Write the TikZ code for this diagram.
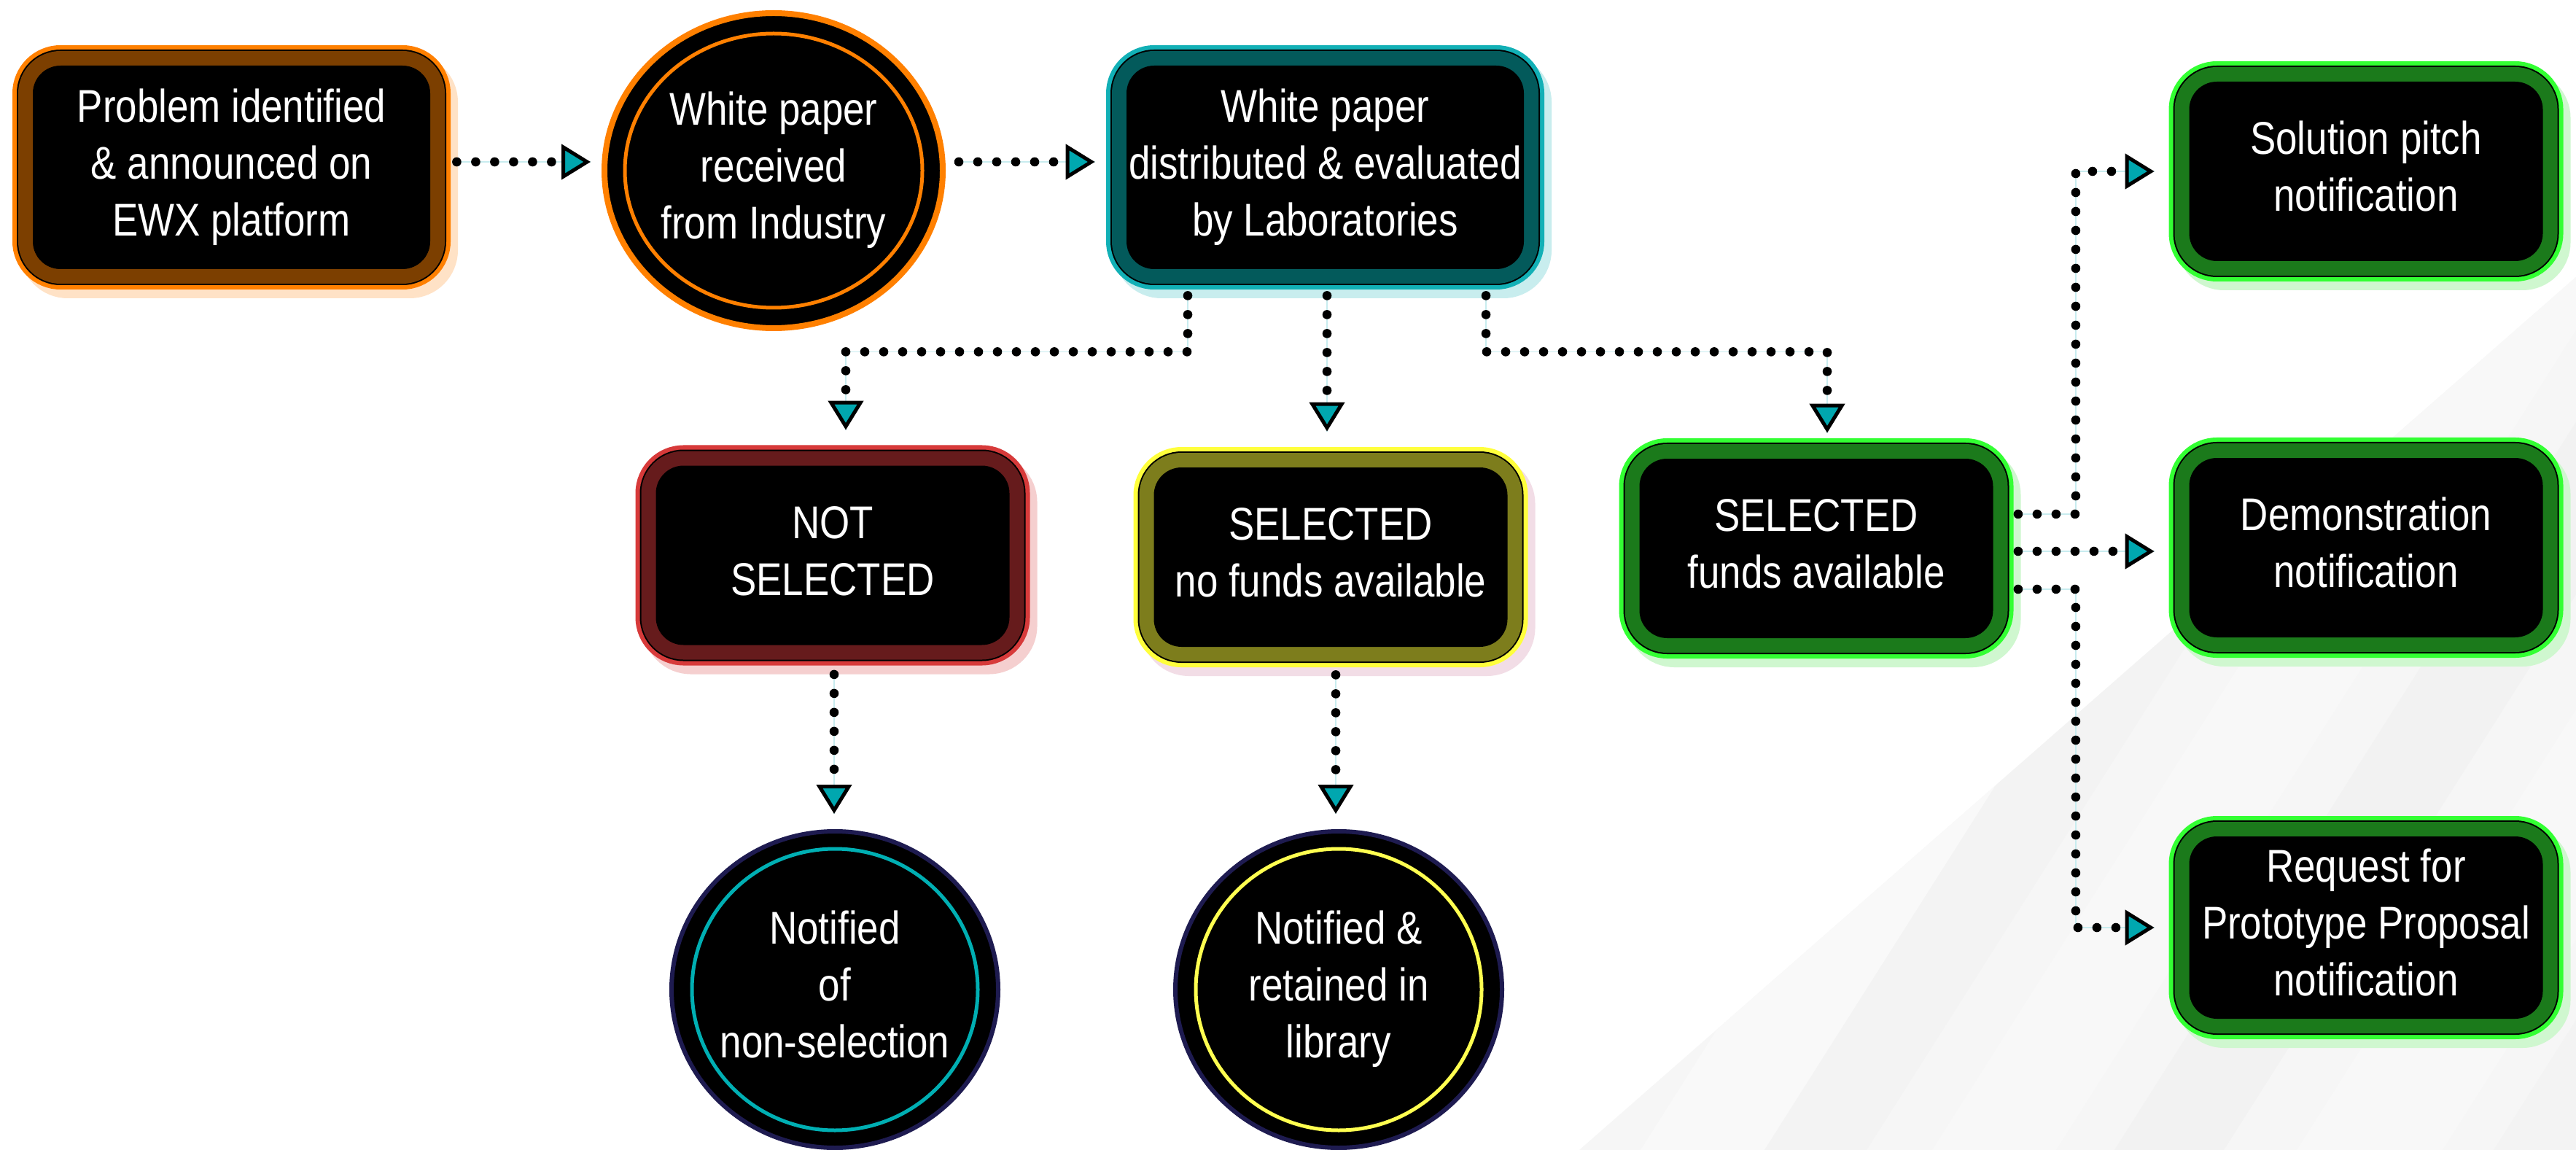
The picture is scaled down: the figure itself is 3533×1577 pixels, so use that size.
\documentclass[tikz,border=0pt]{standalone}
\usepackage{fontspec}
\setmainfont[FakeStretch=0.84]{Liberation Sans}
\usetikzlibrary{arrows.meta,shapes.geometric,calc}
\definecolor{orB}{HTML}{FF8000}\definecolor{orF}{HTML}{7C3F00}\definecolor{orS}{HTML}{FFE2C6}
\definecolor{tlB}{HTML}{12B0B6}\definecolor{tlF}{HTML}{035A5B}\definecolor{tlS}{HTML}{C8EDEE}
\definecolor{rdB}{HTML}{D73A3A}\definecolor{rdF}{HTML}{661B1C}\definecolor{rdS}{HTML}{F5CFCF}
\definecolor{ylB}{HTML}{FFFF3C}\definecolor{ylF}{HTML}{7D7D1C}\definecolor{ylS}{HTML}{F2DDE6}
\definecolor{gnB}{HTML}{33FF33}\definecolor{gnF}{HTML}{1B7A1B}\definecolor{gnS}{HTML}{CFF7CF}
\definecolor{navy}{HTML}{1E1B50}\definecolor{ringT}{HTML}{00AFB3}\definecolor{ringY}{HTML}{FFFF50}
\definecolor{arrT}{HTML}{00A7AF}\definecolor{linec}{HTML}{C8ECEF}
\definecolor{bgA}{HTML}{F6F6F6}
\newcommand\mytxt[2]{\raisebox{#1}{\begin{tabular}{@{}c@{}}#2\end{tabular}}}
\tikzset{
  txtfont/.style={font=\fontsize{31.5}{39}\selectfont, text=white},
  rbox/.style n args={3}{rectangle, rounded corners=19pt, fill=black, inner sep=0pt, txtfont,
    preaction={draw=#3, line width=28pt, transform canvas={shift={(5pt,-6pt)}}},
    preaction={draw=#1, line width=28pt},
    preaction={draw=black, line width=22pt},
    preaction={draw=#2, line width=20pt}},
  bigbox/.style={minimum width=272.5pt, minimum height=139.5pt},
  smallbox/.style={minimum width=242.5pt, minimum height=123pt},
  oval/.style n args={3}{ellipse, fill=black, draw=#1, line width=#2, inner sep=0pt, txtfont,
    minimum width=#3},
  ring/.style={line width=2.5pt},
  conn/.style={draw=black, line width=6.3pt, line cap=round, dash pattern=on 0pt off 13pt,
    preaction={draw=linec, line width=0.6pt, solid, -},
    -{Triangle[length=20pt,width=24pt,fill=arrT,line width=2.5pt]}}
}
\begin{document}
\begin{tikzpicture}[x=0.5pt,y=-0.5pt]
\useasboundingbox (0,0) rectangle (3533,1577);
\fill[white] (0,0) rectangle (3533,1577);
% background: light grey region with faint diagonal stripes
\fill[bgA] (2166,1577) -- (3533,380) -- (3533,1577) -- cycle;
\begin{scope}
\clip (2166,1577) -- (3533,380) -- (3533,1577) -- cycle;
\foreach \a/\b/\c in {2250/2420/F9F9F9,2420/2560/F3F3F3,2650/2820/F8F8F8,2900/3050/F2F2F2,3150/3350/F8F8F8,3420/3600/F3F3F3,3700/3900/F8F8F8,4000/4300/F3F3F3}{
  \definecolor{stc}{HTML}{\c}
  \fill[stc] (\a,1577) -- ++(1000,-1577) -- (\b+1000,0) -- (\b,1577) -- cycle;
}
\end{scope}

% nodes
\node[rbox={orB}{orF}{orS}, bigbox] (b1) at (317.5,229.5) {\mytxt{-3.4pt}{Problem identified\\\& announced on\\EWX platform}};
\node[oval={orB}{4pt}{232pt}, minimum height=216pt] (c1) at (1061,234) {\mytxt{-3.4pt}{White paper\\received\\from Industry}};
\draw[orB, ring] (c1.center) ellipse [x radius=102pt, y radius=94pt];
\node[rbox={tlB}{tlF}{tlS}, bigbox] (b2) at (1817.5,229.5) {\mytxt{2.6pt}{White paper\\distributed \& evaluated\\by Laboratories}};
\node[rbox={rdB}{rdF}{rdS}, smallbox] (ns) at (1142,761.5) {\mytxt{-1.5pt}{NOT\\SELECTED}};
\node[rbox={ylB}{ylF}{ylS}, smallbox] (sn) at (1825,764) {\mytxt{-1.5pt}{SELECTED\\no funds available}};
\node[rbox={gnB}{gnF}{gnS}, smallbox] (sf) at (2491,752) {\mytxt{0.6pt}{SELECTED\\funds available}};
\node[rbox={gnB}{gnF}{gnS}, smallbox] (sp) at (3245,235) {\mytxt{4.1pt}{Solution pitch\\notification}};
\node[rbox={gnB}{gnF}{gnS}, smallbox] (dm) at (3245,751) {\mytxt{6.6pt}{Demonstration\\notification}};
\node[rbox={gnB}{gnF}{gnS}, smallbox, minimum height=125pt] (rq) at (3245,1272) {\mytxt{-3.4pt}{Request for\\Prototype Proposal\\notification}};
\node[oval={navy}{3pt}{224pt}, minimum height=217pt] (c2) at (1145,1357) {\mytxt{-1.9pt}{Notified\\of\\non-selection}};
\draw[ringT, ring] (c2.center) ellipse [x radius=98pt, y radius=96.5pt];
\node[oval={navy}{3pt}{224pt}, minimum height=217pt] (c3) at (1836,1357) {\mytxt{-3.4pt}{Notified \&\\retained in\\library}};
\draw[ringY, ring] (c3.center) ellipse [x radius=98pt, y radius=96.5pt];

% connectors
\draw[conn, shorten >=7.5pt] ($(b1.east)+(36,-7.5)$) coordinate (s1) -- (s1 -| c1.west);
\draw[conn, shorten >=21.5pt] ($(c1.east)+(18,-12)$) coordinate (s2) -- (s2 -| b2.west);
\draw[conn, shorten >=24.25pt] ($(b2.south)+(-188.5,36)$) -- ++(0,77) -| ($(ns.north)+(18,0)$);
\draw[conn, shorten >=24.5pt] ($(b2.south)+(2.5,36)$) coordinate (s4) -- (s4 |- sn.north);
\draw[conn, shorten >=17.5pt] ($(b2.south)+(220.5,36)$) -- ++(0,77) -| ($(sf.north)+(15,0)$);
\draw[conn, shorten >=10.5pt] ($(ns.south)+(2,40)$) coordinate (s6) -- (s6 |- c2.north);
\draw[conn, shorten >=10.5pt] ($(sn.south)+(7,38)$) coordinate (s7) -- (s7 |- c3.north);
\draw[conn, shorten >=23.75pt] ($(sf.east)+(34,-47)$) -- ++(79,0) |- (sp.west);
\draw[conn, shorten >=23.75pt] ($(sf.east)+(34,4)$) coordinate (s9) -- (s9 -| dm.west);
\draw[conn, shorten >=23.75pt] ($(sf.east)+(34,56)$) -- ++(79,0) |- (rq.west);
\end{tikzpicture}
\end{document}
